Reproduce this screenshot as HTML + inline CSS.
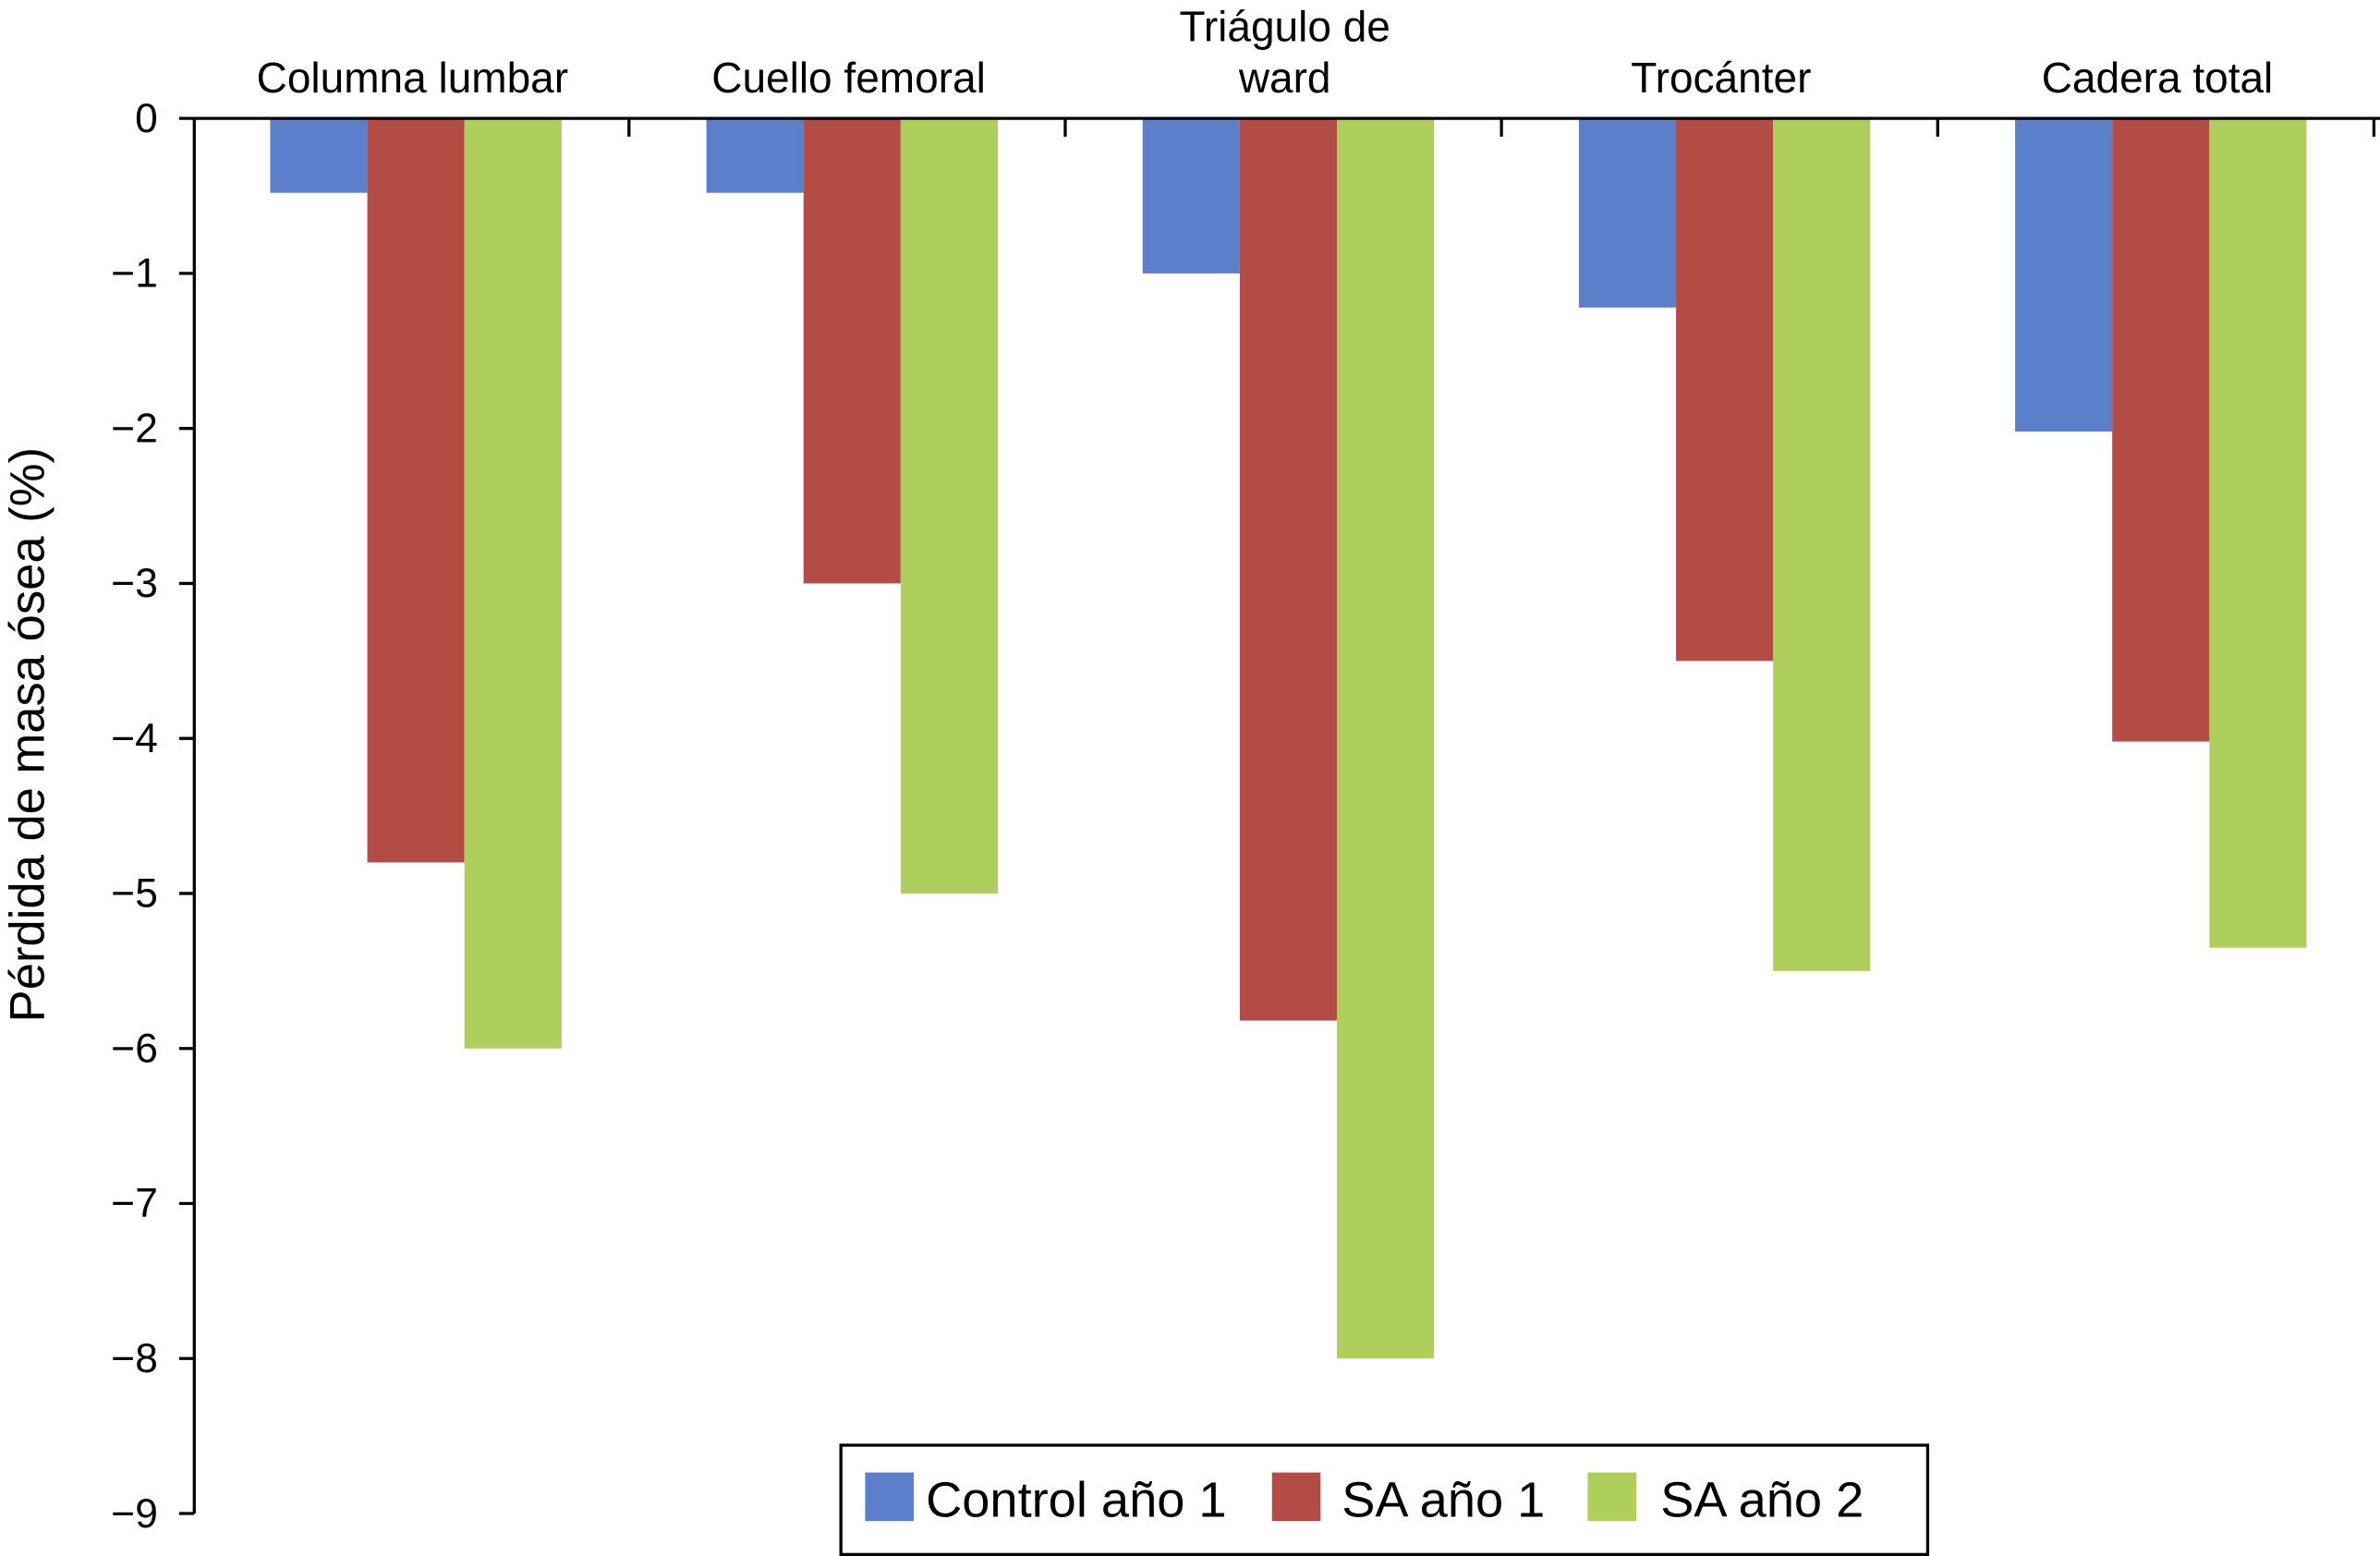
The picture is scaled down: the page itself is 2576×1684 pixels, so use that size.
<!DOCTYPE html>
<html><head><meta charset="utf-8"><style>
html,body{margin:0;padding:0;background:#fff;}
svg{display:block;font-family:"Liberation Sans",sans-serif;}
</style></head><body>
<svg id="chart" width="2576" height="1684" viewBox="0 0 1568 1025" preserveAspectRatio="none" xmlns="http://www.w3.org/2000/svg">
<g id="plot"></g>
<text transform="translate(29,484) rotate(-90)" text-anchor="middle" font-size="32">Pérdida de masa ósea (%)</text>
<g>
<rect x="554" y="952" width="716" height="72" fill="#fff" stroke="#000" stroke-width="2"/>
<g><rect x="570" y="970" width="32" height="32" fill="#5B7FCB"/><text x="610" y="999" font-size="33">Control año 1</text></g>
<g><rect x="838" y="970" width="32" height="32" fill="#B24C45"/><text x="884" y="999" font-size="33">SA año 1</text></g>
<g><rect x="1046" y="970" width="32" height="32" fill="#AECF5B"/><text x="1094" y="999" font-size="33">SA año 2</text></g>
</g>
</svg>
<script>
const categories=[["Columna lumbar"],["Cuello femoral"],["Triágulo de","ward"],["Trocánter"],["Cadera total"]];
const controlYear1=[-0.48,-0.48,-1.0,-1.22,-2.02];
const saYear1=[-4.8,-3.0,-5.82,-3.5,-4.02];
const saYear2=[-6.0,-5.0,-8.0,-5.5,-5.35];
const yTicks=[0,-1,-2,-3,-4,-5,-6,-7,-8,-9];
const seriesNames=["control-ano-1","sa-ano-1","sa-ano-2"];
const colors=["#5B7FCB","#B24C45","#AECF5B"];
const NS="http://www.w3.org/2000/svg";
const g=document.getElementById('plot');
const x0=128,x1=1565,y0=78,y9=997;
const y=v=>y0+(-v)/9*(y9-y0);
const bandW=(x1-x0)/categories.length;
const xb=i=>x0+i*bandW;
function el(t,a){const e=document.createElementNS(NS,t);for(const k in a)e.setAttribute(k,a[k]);g.appendChild(e);return e;}
const series=[controlYear1,saYear1,saYear2];
series.forEach((s,si)=>s.forEach((v,i)=>{
 const r=el('rect',{x:xb(i)+50+si*64,y:y(0),width:64,height:y(v)-y(0),fill:colors[si]});
 
 
}));
const ax=el('line',{x1:x0,y1:y0,x2:x0,y2:y9,stroke:'#000','stroke-width':2});


const xa=el('line',{x1:x0,y1:y0,x2:1568,y2:y0,stroke:'#000','stroke-width':2});


yTicks.forEach(t=>{
 el('line',{x1:x0-10,y1:y(t),x2:x0,y2:y(t),stroke:'#000','stroke-width':2});
 const tx=el('text',{x:104,y:y(t)+9,'text-anchor':'end','font-size':27});
 tx.textContent=t<0?'\u2212'+(-t):String(t);
 
 
});
for(let i=1;i<=categories.length;i++){el('line',{x1:xb(i)-1,y1:y0,x2:xb(i)-1,y2:y0+12,stroke:'#000','stroke-width':2});}
categories.forEach((c,i)=>{
 c.forEach((line,li)=>{
  const tx=el('text',{x:xb(i)+bandW/2,y:61-(c.length-1-li)*34,'text-anchor':'middle','font-size':28});
  tx.textContent=line;
  
  
 });
});
</script>
</body></html>
